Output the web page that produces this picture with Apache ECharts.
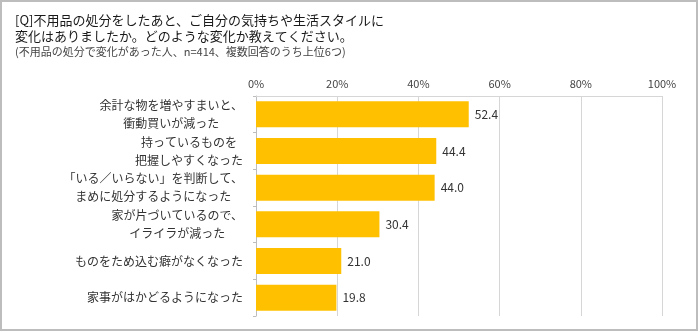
<!DOCTYPE html>
<html>
<head>
<meta charset="utf-8">
<script src="https://cdn.jsdelivr.net/npm/echarts@6/dist/echarts.min.js"></script>
<style>
  html, body { margin: 0; padding: 0; background: #fff; }
  #chart { width: 700px; height: 332px; }
</style>
</head>
<body>
<div id="chart"></div>
<script>
// Survey question and note
const titleLines = [
  '[Q]不用品の処分をしたあと、ご自分の気持ちや生活スタイルに',
  '変化はありましたか。どのような変化か教えてください。'
];
const noteText = '(不用品の処分で変化があった人、n=414、複数回答のうち上位6つ)';

// Answers (top 6) and share of respondents, %
const categories = [
  ['余計な物を増やすまいと、', '衝動買いが減った'],
  ['持っているものを', '把握しやすくなった'],
  ['「いる／いらない」を判断して、', 'まめに処分するようになった'],
  ['家が片づいているので、', 'イライラが減った'],
  ['ものをため込む癖がなくなった'],
  ['家事がはかどるようになった']
];
const values = [52.4, 44.4, 44.0, 30.4, 21.0, 19.8];

// Percentage axis
const axisMin = 0;
const axisMax = 100;
const axisStep = 20;

const font = '"Noto Sans CJK JP", "Noto Sans", sans-serif';
const chart = echarts.init(document.getElementById('chart'), null, { renderer: 'canvas' });

chart.setOption({
  backgroundColor: '#fff',
  animation: false,
  textStyle: { fontFamily: font },
  title: {
    text: titleLines.join('\n'),
    subtext: noteText,
    left: 15,
    top: 12,
    itemGap: 0,
    padding: 0,
    textStyle: { fontSize: 13, lineHeight: 16, fontWeight: 'normal', color: '#1a1a1a', fontFamily: font },
    subtextStyle: { fontSize: 11, lineHeight: 15, color: '#444', fontFamily: font }
  },
  graphic: [{
    type: 'rect',
    silent: true,
    shape: { x: 1, y: 1, width: 696, height: 329 },
    style: { fill: 'none', stroke: '#bdbdbd', lineWidth: 2 }
  }],
  grid: { left: 256, right: 38, top: 96, bottom: 16, containLabel: false },
  xAxis: {
    type: 'value',
    position: 'top',
    min: axisMin,
    max: axisMax,
    interval: axisStep,
    axisLine: { show: true, lineStyle: { color: '#d6d6d6', width: 1 } },
    axisTick: { show: false },
    axisLabel: { formatter: '{value}%', fontSize: 11, color: '#444', margin: 7, fontFamily: font },
    splitLine: { show: true, lineStyle: { color: '#d6d6d6', width: 1 } }
  },
  yAxis: {
    type: 'category',
    inverse: true,
    data: categories.map(c => c.join('\n')),
    axisLine: { show: true, lineStyle: { color: '#bdbdbd', width: 1 } },
    axisTick: { show: true, length: 3, lineStyle: { color: '#bdbdbd' } },
    axisLabel: {
      margin: 13,
      fontSize: 12,
      color: '#333',
      lineHeight: 18,
      fontFamily: font,
      formatter: v => v.split('\n').map(s => '{c|' + s + '}').join('\n'),
      rich: { c: { align: 'center', fontSize: 12, lineHeight: 18, color: '#333', fontFamily: font } }
    }
  },
  series: [{
    type: 'bar',
    data: values,
    barCategoryGap: '29%',
    itemStyle: { color: '#FFC000' },
    label: {
      show: true,
      position: 'right',
      distance: 6,
      fontSize: 12,
      color: '#333',
      fontFamily: font,
      formatter: p => p.value.toFixed(1)
    }
  }]
});
</script>
</body>
</html>
